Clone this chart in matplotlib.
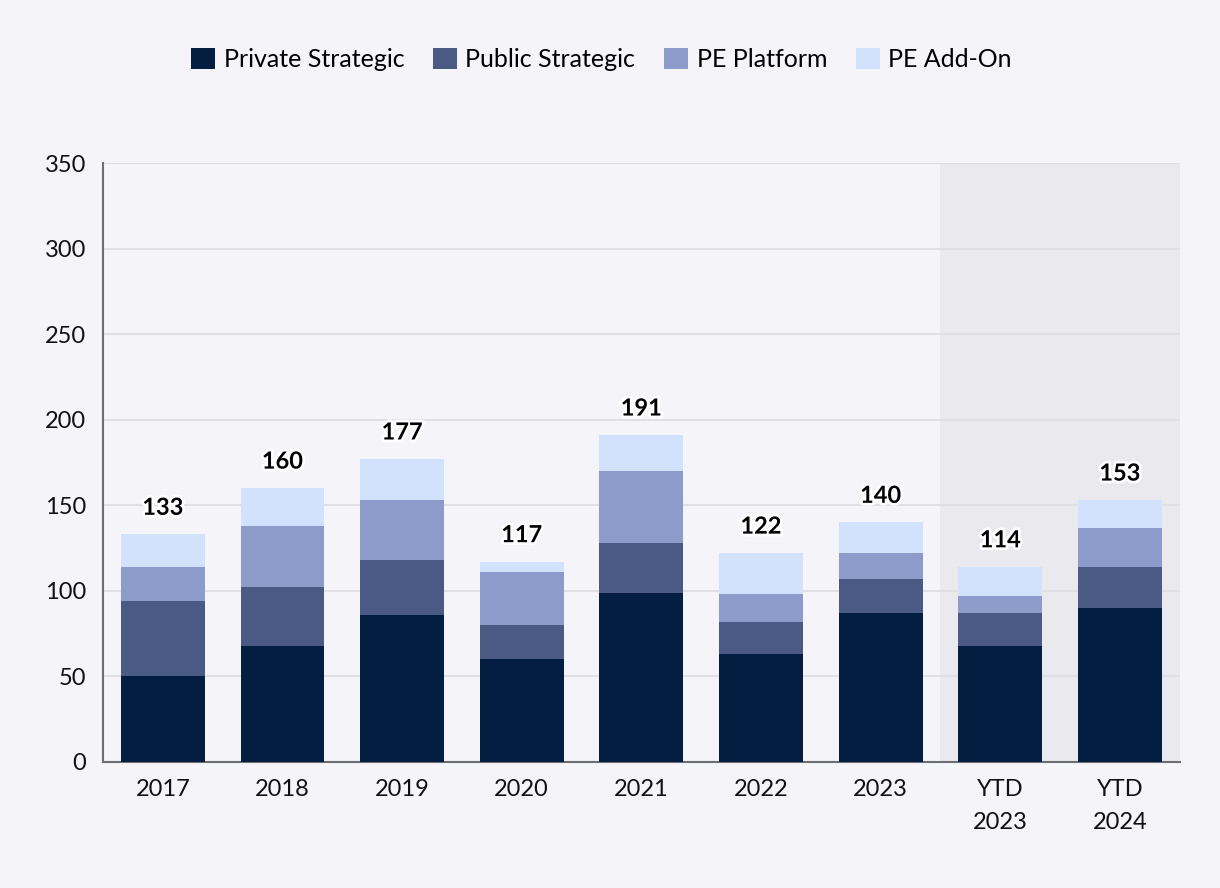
import matplotlib
matplotlib.use("Agg")
import matplotlib.pyplot as plt
import matplotlib.patheffects as pe
import numpy as np

categories = ["2017", "2018", "2019", "2020", "2021", "2022", "2023", "YTD\n2023", "YTD\n2024"]
private_strategic = [50, 68, 86, 60, 99, 63, 87, 68, 90]
public_strategic = [44, 34, 32, 20, 29, 19, 20, 19, 24]
pe_platform = [20, 36, 35, 31, 42, 16, 15, 10, 23]
pe_addon = [19, 22, 24, 6, 21, 24, 18, 17, 16]
series_names = ["Private Strategic", "Public Strategic", "PE Platform", "PE Add-On"]
colors = ["#041e42", "#4a5a84", "#8c9bc9", "#d3e2fc"]

plt.rcParams['font.family'] = ['Lato', 'DejaVu Sans']

bg = "#f5f5f9"
fig = plt.figure(figsize=(12.2, 8.88), dpi=100, facecolor=bg)
ax = fig.add_axes([0.0844, 0.1419, 0.8826, 0.6745])
ax.set_facecolor(bg)

x = np.arange(len(categories))
ax.axvspan(6.5, 8.5, color="#eae9ee", zorder=0, lw=0)

data = [private_strategic, public_strategic, pe_platform, pe_addon]
bottom = np.zeros(len(categories))
for vals, name, c in zip(data, series_names, colors):
    ax.bar(x, vals, bottom=bottom, width=0.70, color=c, label=name, zorder=3)
    bottom += np.array(vals)

for xi, tot in zip(x, bottom):
    t = ax.annotate(f"{int(tot)}", (xi, tot), xytext=(0, 19.5), textcoords="offset points",
                    ha="center", va="center", fontsize=17, fontweight="bold", color="#000000", zorder=5)
    t.set_path_effects([pe.withStroke(linewidth=4, foreground="white")])

ax.set_xlim(-0.5, 8.5)
ax.set_ylim(0, 350)
ax.set_yticks(np.arange(0, 351, 50))
ax.yaxis.grid(True, color="#e0dfe4", lw=1.5, zorder=1)
ax.set_axisbelow(True)
ax.set_xticks(x)
ax.set_xticklabels(categories, fontsize=17, color="#111111", linespacing=1.75)
ax.tick_params(axis="y", labelsize=17, labelcolor="#111111", length=0, pad=12)
ax.tick_params(axis="x", length=0, pad=12)
for s in ["top", "right"]:
    ax.spines[s].set_visible(False)
for s in ["left", "bottom"]:
    ax.spines[s].set_color("#6b6e73")
    ax.spines[s].set_linewidth(1.5)

fig.legend(loc="center", bbox_to_anchor=(0.493, 0.933), ncol=4, frameon=False,
           fontsize=18, handlelength=0.95, handleheight=0.95, handletextpad=0.35,
           columnspacing=1.15)

fig.savefig("out.png", dpi=100, facecolor=bg)
